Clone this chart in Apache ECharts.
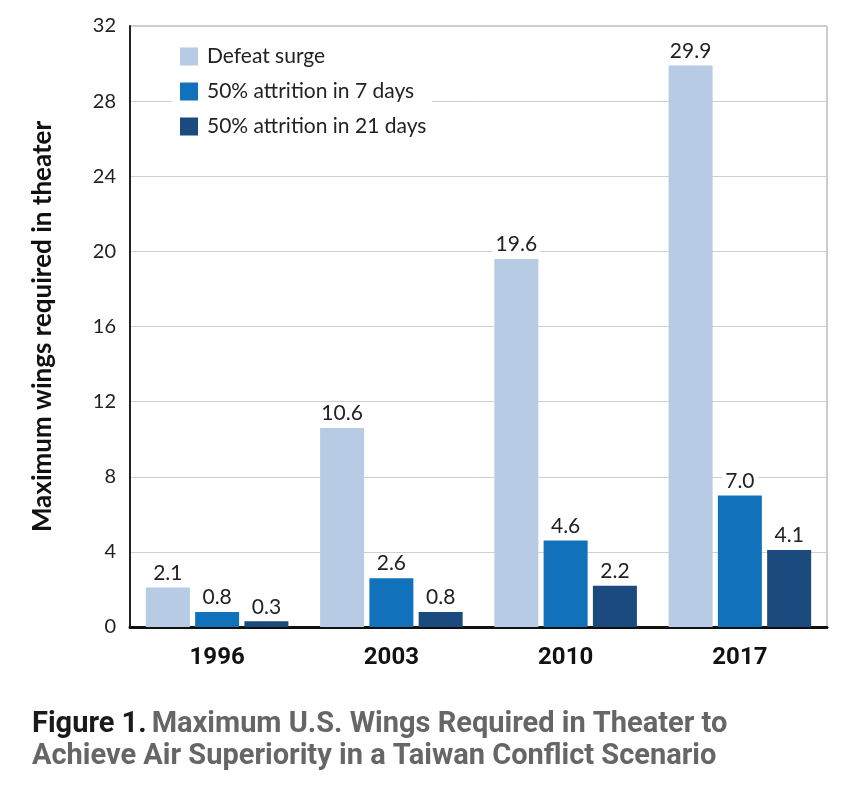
<!DOCTYPE html>
<html><head><meta charset="utf-8">
<script src="https://cdn.jsdelivr.net/npm/echarts@6/dist/echarts.min.js"></script>
<style>html,body{margin:0;padding:0;background:#fff}#c{width:850px;height:786px}</style>
</head><body><div id="c"></div>
<script>
const categories = ['1996', '2003', '2010', '2017'];
const defeatSurge = [2.1, 10.6, 19.6, 29.9];
const attrition7 = [0.8, 2.6, 4.6, 7.0];
const attrition21 = [0.3, 0.8, 2.2, 4.1];
const seriesNames = ['Defeat surge', '50% attrition in 7 days', '50% attrition in 21 days'];
const colors = ['#b7cbe5', '#1172bb', '#1b4a7e'];

const chart = echarts.init(document.getElementById('c'));
const labelStyle = {
  show: true, position: 'top', distance: 4,
  formatter: p => p.value.toFixed(1),
  fontFamily: 'Lato, "Noto Sans", sans-serif', fontSize: 21, color: '#222',
  backgroundColor: '#fff', padding: [0, 3, 0, 3]
};
function mk(i, data) {
  return {
    name: seriesNames[i], type: 'bar', data: data, barWidth: 44, barGap: '12%',
    itemStyle: { color: colors[i] }, label: labelStyle
  };
}
chart.setOption({
  animation: false,
  color: colors,
  title: {
    left: 27, top: 704,
    text: '{a|Figure 1.} {b|Maximum U.S. Wings Required in Theater to}\n{b|Achieve Air Superiority in a Taiwan Conflict Scenario}',
    textStyle: {
      rich: {
        a: { fontFamily: 'Roboto, sans-serif', fontWeight: 'bold', fontSize: 29, color: '#1a1a1a', lineHeight: 32 },
        b: { fontFamily: 'Roboto, sans-serif', fontWeight: 'bold', fontSize: 29, color: '#666', lineHeight: 32 }
      }
    }
  },
  legend: {
    orient: 'vertical', left: 172, top: 42, itemGap: 14,
    itemWidth: 18, itemHeight: 18, icon: 'rect',
    backgroundColor: '#fff', padding: [4, 6, 4, 8],
    textStyle: { fontFamily: 'Lato, "Noto Sans", sans-serif', fontSize: 21, color: '#222', padding: [0, 0, 0, 4] },
    data: seriesNames
  },
  grid: { left: 130, right: 23, top: 26, bottom: 159, show: true, borderColor: '#9a9a9a', borderWidth: 1 },
  xAxis: {
    type: 'category', data: categories,
    axisLine: { lineStyle: { color: '#111', width: 3 } },
    axisTick: { show: false },
    axisLabel: { margin: 19, fontFamily: 'Roboto, sans-serif', fontWeight: 'bold', fontSize: 24, color: '#111' }
  },
  yAxis: {
    type: 'value', min: 0, max: 32, interval: 4,
    name: 'Maximum wings required in theater', nameLocation: 'middle', nameGap: 74, nameRotate: 90,
    nameTextStyle: { fontFamily: 'Lato, "Noto Sans", sans-serif', fontWeight: 'bold', fontSize: 26, color: '#111' },
    axisLine: { show: true, lineStyle: { color: '#222', width: 2 } },
    axisTick: { show: false },
    splitLine: { lineStyle: { color: '#cfcfcf', width: 1 } },
    axisLabel: { margin: 14, fontFamily: 'Lato, "Noto Sans", sans-serif', fontSize: 20, color: '#222' }
  },
  series: [mk(0, defeatSurge), mk(1, attrition7), mk(2, attrition21)]
});
</script></body></html>
